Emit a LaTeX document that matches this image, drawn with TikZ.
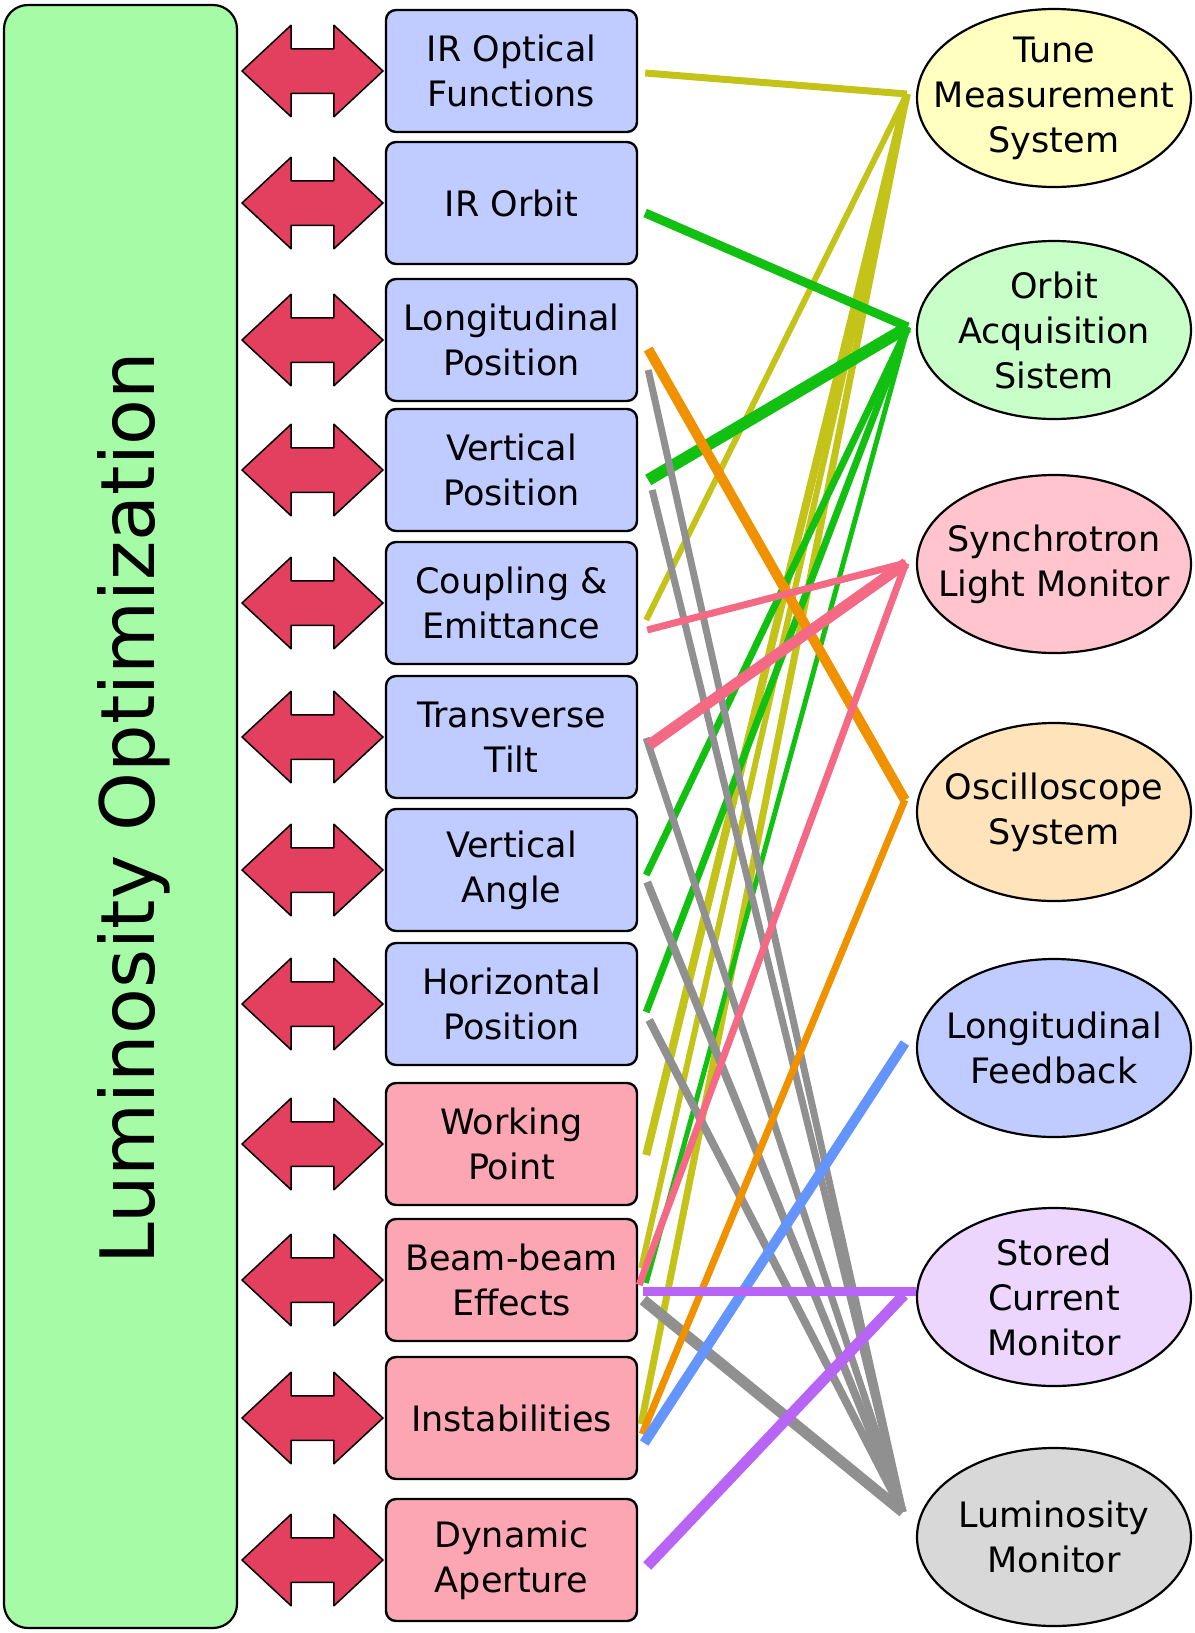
\documentclass[tikz,border=0pt]{standalone}
\usepackage{fontspec}
\setmainfont{DejaVu Sans}
\usepackage{tikz}
\usetikzlibrary{calc,shapes.geometric,shapes.arrows}

\definecolor{panelgreen}{HTML}{A6FCA6}
\definecolor{parblue}{HTML}{C0CCFF}
\definecolor{parpink}{HTML}{FCA6B4}
\definecolor{arrowred}{HTML}{E2405E}
\definecolor{tunefill}{HTML}{FFFFC0}
\definecolor{orbitfill}{HTML}{C8FFC8}
\definecolor{synfill}{HTML}{FFC4CE}
\definecolor{oscfill}{HTML}{FFE3BB}
\definecolor{lffill}{HTML}{C0CCFF}
\definecolor{scmfill}{HTML}{ECD6FE}
\definecolor{lumfill}{HTML}{D8D8D8}
\definecolor{cTune}{HTML}{C3C31A}
\definecolor{cOrbit}{HTML}{11C011}
\definecolor{cSyn}{HTML}{F46A85}
\definecolor{cOsc}{HTML}{F09200}
\definecolor{cLF}{HTML}{6495FF}
\definecolor{cSCM}{HTML}{B865F5}
\definecolor{cLum}{HTML}{909090}

\newcommand{\boxfont}{\fontsize{17.5}{22.5}\selectfont}

\begin{document}
\begin{tikzpicture}[x=0.5pt,y=-0.5pt,line join=round,
  param/.style={draw,line width=1.2pt,rounded corners=5pt,inner sep=0pt,
    minimum width=125.5pt,minimum height=61pt,align=center,font=\boxfont},
  instr/.style={ellipse,draw,line width=1.1pt,inner sep=0pt,
    minimum width=137pt,minimum height=89pt},
  every label/.style={align=center,font=\boxfont},
  dbl/.style={double arrow,draw,line width=0.75pt,fill=arrowred,
    inner xsep=0pt,inner ysep=10.75pt,
    minimum height=70.5pt,minimum width=45pt,
    double arrow head extend=11.75pt,double arrow tip angle=86},
  wire/.style={line cap=butt,line join=miter}]
  \useasboundingbox (0,0) rectangle (1194,1633);
  \draw[fill=panelgreen,line width=1.1pt,rounded corners=12pt] (4,5) rectangle (237,1628);
  \node[rotate=90,anchor=base,font=\fontsize{37.5}{45}\selectfont] (title) at (154,808) {Luminosity Optimization};

  \node[dbl] (a1) at (312.5,71) {};
  \node[dbl] (a2) at (312.5,203) {};
  \node[dbl] (a3) at (312.5,340) {};
  \node[dbl] (a4) at (312.5,470) {};
  \node[dbl] (a5) at (312.5,603) {};
  \node[dbl] (a6) at (312.5,737) {};
  \node[dbl] (a7) at (312.5,870) {};
  \node[dbl] (a8) at (312.5,1004) {};
  \node[dbl] (a9) at (312.5,1144) {};
  \node[dbl] (a10) at (312.5,1280) {};
  \node[dbl] (a11) at (312.5,1418) {};
  \node[dbl] (a12) at (312.5,1560) {};

  \node[param,fill=parblue] (irof) at (511.5,71) {IR Optical\\Functions};
  \node[param,fill=parblue] (irob) at (511.5,203) {IR Orbit};
  \node[param,fill=parblue] (lpos) at (511.5,340) {Longitudinal\\Position};
  \node[param,fill=parblue] (vpos) at (511.5,470) {Vertical\\Position};
  \node[param,fill=parblue] (coup) at (511.5,603) {Coupling \&\\Emittance};
  \node[param,fill=parblue] (ttil) at (511.5,737) {Transverse\\Tilt};
  \node[param,fill=parblue] (vang) at (511.5,870) {Vertical\\Angle};
  \node[param,fill=parblue] (hpos) at (511.5,1004) {Horizontal\\Position};
  \node[param,fill=parpink] (wp) at (511.5,1144) {Working\\Point};
  \node[param,fill=parpink] (bb) at (511.5,1280) {Beam-beam\\Effects};
  \node[param,fill=parpink] (inst) at (511.5,1418) {Instabilities};
  \node[param,fill=parpink] (da) at (511.5,1560) {Dynamic\\Aperture};

  \node[instr,fill=tunefill,label={center:Tune\\Measurement\\System}] (tune) at (1054,98) {};
  \node[instr,fill=orbitfill,label={center:Orbit\\Acquisition\\Sistem}] (orb) at (1054,330) {};
  \node[instr,fill=synfill,label={center:Synchrotron\\Light Monitor}] (syn) at (1054,564) {};
  \node[instr,fill=oscfill,label={center:Oscilloscope\\System}] (osc) at (1054,812) {};
  \node[instr,fill=lffill,label={center:Longitudinal\\Feedback}] (lf) at (1054,1048) {};
  \node[instr,fill=scmfill,label={center:Stored\\Current\\Monitor}] (scm) at (1054,1297) {};
  \node[instr,fill=lumfill,label={center:Luminosity\\Monitor}] (lum) at (1054,1537) {};

  \coordinate (tuneIn) at ($(tune.west)+(-9,-4)$);
  \coordinate (orbIn) at ($(orb.west)+(-8,-3)$);
  \coordinate (synIn) at ($(syn.west)+(-10,-1)$);
  \coordinate (oscIn) at ($(osc.west)+(-11,-12)$);
  \coordinate (lfIn) at ($(lf.west)+(-11,-5)$);
  \coordinate (scmIn) at ($(scm.west)+(-12,-2)$);
  \coordinate (lumIn) at ($(lum.west)+(-13,-25)$);

  \draw[wire,cTune,line width=3.5pt] ($(irof.east)+(7,2)$) -- (tuneIn);
  \draw[wire,cTune,line width=3pt] ($(coup.east)+(8,17)$) -- (tuneIn);
  \draw[wire,cTune,line width=4pt] ($(wp.east)+(8,11)$) -- (tuneIn);
  \draw[wire,cTune,line width=3pt] ($(bb.east)+(3,-12)$) -- (tuneIn);
  \draw[wire,cTune,line width=3.5pt] ($(inst.east)+(3,6)$) -- (tuneIn);

  \draw[wire,cOrbit,line width=4.5pt] ($(irob.east)+(7,10)$) -- (orbIn);
  \draw[wire,cOrbit,line width=6pt] ($(vpos.east)+(10,10)$) -- (orbIn);
  \draw[wire,cOrbit,line width=3.5pt] ($(vang.east)+(8,5)$) -- (orbIn);
  \draw[wire,cOrbit,line width=3.5pt] ($(hpos.east)+(8,8)$) -- (orbIn);
  \draw[wire,cOrbit,line width=2.5pt] ($(bb.east)+(8,3)$) -- (orbIn);

  \draw[wire,cLum,line width=3.5pt] ($(lpos.east)+(10,30)$) -- (lumIn);
  \draw[wire,cLum,line width=3.5pt] ($(vpos.east)+(14,20)$) -- (lumIn);
  \draw[wire,cLum,line width=3.5pt] ($(ttil.east)+(8,1)$) -- (lumIn);
  \draw[wire,cLum,line width=4pt] ($(vang.east)+(9,12)$) -- (lumIn);
  \draw[wire,cLum,line width=4pt] ($(hpos.east)+(11,16)$) -- (lumIn);
  \draw[wire,cLum,line width=5.5pt] ($(bb.east)+(5,20)$) -- (lumIn);

  \draw[wire,cOsc,line width=5pt] ($(lpos.east)+(10,9)$) -- (oscIn);
  \draw[wire,cOsc,line width=3.5pt] ($(inst.east)+(4,16)$) -- (oscIn);

  \draw[wire,cSyn,line width=3.5pt] ($(coup.east)+(9,27)$) -- (synIn);
  \draw[wire,cSyn,line width=5.5pt] ($(ttil.east)+(11,8)$) -- (synIn);
  \draw[wire,cSyn,line width=3.5pt] ($(bb.east)+(1,5)$) -- (synIn);

  \draw[wire,cLF,line width=5pt] ($(inst.east)+(6,25)$) -- (lfIn);

  \draw[wire,cSCM,line width=4.5pt] ($(bb.east)+(5,11)$) -- ($(scm.west)+(0,-6)$);
  \draw[wire,cSCM,line width=5.5pt] ($(da.east)+(9,6)$) -- (scmIn);
\end{tikzpicture}
\end{document}
